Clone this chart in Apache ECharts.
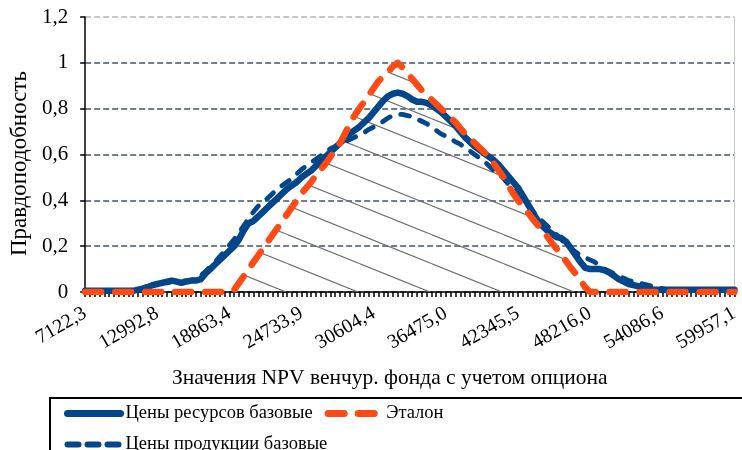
<!DOCTYPE html>
<html><head><meta charset="utf-8">
<script src="https://cdn.jsdelivr.net/npm/echarts@6/dist/echarts.min.js"></script>
<style>html,body{margin:0;padding:0;background:#fff}#c{width:742px;height:450px}</style>
</head><body><div id="c"></div>
<script>
var xTickLabels = ['7122,3','12992,8','18863,4','24733,9','30604,4','36475,0','42345,5','48216,0','54086,6','59957,1'];
var yTickLabels = ['0','0,2','0,4','0,6','0,8','1','1,2'];
var seriesNames = ['Цены ресурсов базовые','Цены продукции базовые','Эталон'];

var resources = [
0.005,0.005,0.005,0.005,0.005,0.005,0.005,0.005,0.005,0.005,
0.005,0.01,0.015,0.02,0.03,0.035,0.04,0.045,0.05,0.045,
0.04,0.045,0.05,0.05,0.055,0.08,0.1,0.12,0.14,0.16,
0.18,0.2,0.23,0.27,0.3,0.31,0.33,0.35,0.37,0.39,
0.41,0.43,0.45,0.465,0.48,0.5,0.515,0.53,0.55,0.57,
0.59,0.61,0.63,0.65,0.67,0.69,0.705,0.72,0.74,0.76,
0.785,0.81,0.835,0.855,0.865,0.87,0.865,0.855,0.84,0.83,
0.83,0.825,0.815,0.8,0.785,0.765,0.745,0.725,0.7,0.675,
0.655,0.635,0.62,0.605,0.59,0.575,0.555,0.53,0.505,0.48,
0.455,0.42,0.385,0.35,0.315,0.29,0.27,0.255,0.24,0.235,
0.22,0.19,0.16,0.13,0.105,0.1,0.1,0.1,0.095,0.085,
0.07,0.055,0.045,0.035,0.03,0.025,0.02,0.015,0.01,0.01,
0.01,0.01,0.01,0.01,0.01,0.01,0.01,0.01,0.01,0.01,
0.01,0.01,0.01,0.01,0.01,0.01];

var products = [
0.005,0.005,0.005,0.005,0.005,0.005,0.005,0.005,0.005,0.005,
0.005,0.01,0.02,0.025,0.03,0.035,0.04,0.04,0.045,0.045,
0.045,0.05,0.05,0.06,0.07,0.09,0.11,0.13,0.155,0.18,
0.205,0.23,0.26,0.29,0.32,0.35,0.375,0.395,0.41,0.43,
0.45,0.465,0.48,0.495,0.515,0.535,0.55,0.565,0.58,0.595,
0.61,0.625,0.635,0.645,0.655,0.665,0.675,0.685,0.695,0.71,
0.72,0.73,0.745,0.76,0.77,0.775,0.775,0.77,0.765,0.755,
0.745,0.735,0.72,0.705,0.69,0.68,0.67,0.655,0.645,0.63,
0.615,0.6,0.585,0.57,0.55,0.53,0.515,0.495,0.47,0.45,
0.43,0.405,0.38,0.355,0.33,0.31,0.29,0.27,0.25,0.23,
0.205,0.19,0.175,0.16,0.15,0.14,0.13,0.115,0.1,0.09,
0.08,0.07,0.06,0.05,0.045,0.04,0.035,0.03,0.025,0.02,
0.015,0.01,0.01,0.01,0.01,0.01,0.01,0.01,0.01,0.01,
0.01,0.01,0.01,0.01,0.01,0.01];

var etalon = [
0,0,0,0,0,0,0,0,0,0,
0,0,0,0,0,0,0,0,0,0,
0,0,0,0,0,0,0,0,0,0,
0,0.01,0.04,0.07,0.1,0.13,0.16,0.19,0.22,0.25,
0.28,0.31,0.34,0.37,0.4,0.43,0.455,0.48,0.51,0.535,
0.56,0.59,0.62,0.65,0.69,0.73,0.77,0.8,0.83,0.86,
0.89,0.92,0.94,0.96,0.985,1.0,0.98,0.955,0.93,0.905,
0.88,0.86,0.84,0.82,0.8,0.78,0.76,0.74,0.715,0.69,
0.67,0.65,0.63,0.61,0.59,0.56,0.53,0.5,0.465,0.43,
0.4,0.375,0.35,0.32,0.295,0.27,0.245,0.215,0.19,0.16,
0.135,0.105,0.08,0.05,0.02,0,0,0,0,0,
0,0,0,0,0,0,0,0,0,0,
0,0,0,0,0,0,0,0,0,0,
0,0,0,0,0,0];

var categories = resources.map(function(_, i){ return String(i); });

// hatch pattern
var tile = document.createElement('canvas');
tile.width = 72; tile.height = 29;
var g = tile.getContext('2d');
g.strokeStyle = '#707070'; g.lineWidth = 1.2;
[-29, 0, 29].forEach(function(off){
  g.beginPath(); g.moveTo(0, 2.8 + off); g.lineTo(72, 31.8 + off); g.stroke();
});

var FONT = '"Liberation Serif", "Times New Roman", serif';
var BLUE = '#04468c', ORANGE = '#ff4a14';

var chart = echarts.init(document.getElementById('c'), null, {renderer: 'canvas'});
chart.setOption({
  animation: false,
  grid: {left: 82, right: 2, top: 17, bottom: 158},
  legend: {
    data: [
      {name: seriesNames[0], lineStyle: {color: BLUE, width: 7, type: 'solid', cap: 'round'}},
      {name: seriesNames[2], lineStyle: {color: ORANGE, width: 7, type: [16, 14], cap: 'round'}},
      {name: seriesNames[1], lineStyle: {color: BLUE, width: 6, type: [11, 9], cap: 'round'}}
    ],
    left: 50, top: 398, width: 440,
    padding: [6, 300, 30, 14],
    itemWidth: 53, itemHeight: 16, itemGap: 12,
    borderColor: '#000', borderWidth: 2,
    itemStyle: {opacity: 0},
    textStyle: {fontFamily: FONT, fontSize: 18.5, color: '#000'}
  },
  xAxis: {
    type: 'category', data: categories, boundaryGap: false,
    axisLine: {lineStyle: {color: '#000', width: 1.5}},
    axisTick: {show: true, interval: 0, length: 5, lineStyle: {color: '#000', width: 1.5}},
    axisLabel: {
      interval: 14, rotate: 30, margin: 20,
      fontFamily: FONT, fontSize: 20, color: '#000',
      formatter: function(v, idx){ return xTickLabels[idx / 15] || ''; }
    },
    splitLine: {show: false},
    name: 'Значения NPV венчур. фонда с учетом опциона',
    nameLocation: 'middle', nameGap: 75,
    nameTextStyle: {fontFamily: FONT, fontSize: 21.5, color: '#000', padding: [0, 40, 0, 0]}
  },
  yAxis: [{
    type: 'value', min: 0, max: 1.2, interval: 0.2,
    axisLine: {show: true, lineStyle: {color: '#000', width: 1.5}},
    axisTick: {show: true, length: 5, lineStyle: {color: '#000', width: 1.5}},
    axisLabel: {
      margin: 17, fontFamily: FONT, fontSize: 21, color: '#000',
      formatter: function(v){ return yTickLabels[Math.round(v / 0.2)]; }
    },
    splitLine: {show: true, lineStyle: {color: ['#44546a','#44546a','#44546a','#44546a','#44546a','#44546a','#b4b4b4'], type: [6, 3], width: 1.5}},
    name: 'Правдоподобность', nameLocation: 'middle', nameGap: 52,
    nameTextStyle: {fontFamily: FONT, fontSize: 23, color: '#000', padding: [0, 18, 0, 0]}
  }, {
    type: 'value', min: 0, max: 1.2, interval: 0.2, position: 'right',
    axisLine: {show: true, lineStyle: {color: '#c8c8c8', width: 1}},
    axisTick: {show: false}, axisLabel: {show: false}, splitLine: {show: false}
  }],
  series: [
    {
      name: 'hatch', type: 'line', data: etalon, symbol: 'none', silent: true,
      lineStyle: {width: 0, opacity: 0},
      areaStyle: {color: {image: tile, repeat: 'repeat'}, opacity: 1},
      z: 1
    },
    {
      name: seriesNames[0], type: 'line', data: resources, symbol: 'none',
      lineStyle: {color: BLUE, width: 6.5, cap: 'round', join: 'round'},
      itemStyle: {color: BLUE}, z: 3
    },
    {
      name: seriesNames[1], type: 'line', data: products, symbol: 'none',
      lineStyle: {color: BLUE, width: 4.8, type: [9, 11], cap: 'round', join: 'round'},
      itemStyle: {color: BLUE}, z: 4
    },
    {
      name: seriesNames[2], type: 'line', data: etalon, symbol: 'none',
      lineStyle: {color: ORANGE, width: 6.5, type: [16, 14], cap: 'round', join: 'round'},
      itemStyle: {color: ORANGE}, z: 5
    }
  ]
});
</script></body></html>
